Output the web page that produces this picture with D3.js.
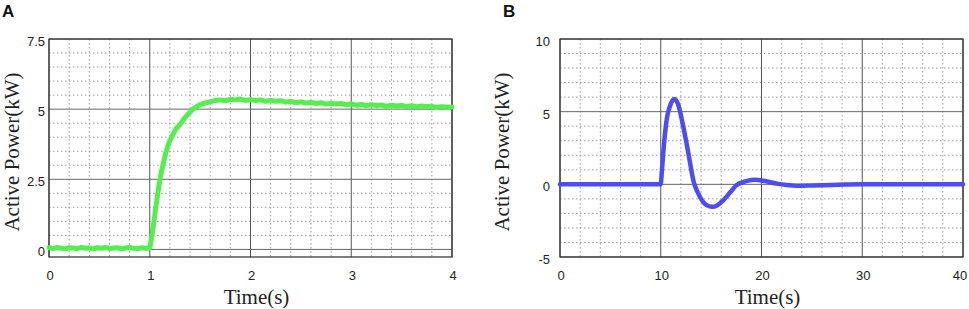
<!DOCTYPE html>
<html>
<head>
<meta charset="utf-8">
<script src="https://cdn.jsdelivr.net/npm/d3@7"></script>
<style>
  body { margin: 0; background: #fff; }
  svg { display: block; }
</style>
</head>
<body>
<div id="d3-container"></div>
<script>
/* CONSTANTS AND GLOBALS */
const width = 969,
  height = 309;

/* DATA */
// panel A: step response, time (s) and active power (kW)
const timeA = [0, 0.04, 0.08, 0.12, 0.16, 0.2, 0.24, 0.28, 0.32, 0.36, 0.4, 0.44, 0.48, 0.52, 0.56, 0.6, 0.64, 0.68, 0.72, 0.76, 0.8, 0.84, 0.88, 0.92, 0.96, 1.0,
  1.02, 1.04, 1.06, 1.08, 1.1, 1.12, 1.14, 1.16, 1.18, 1.2, 1.23, 1.26, 1.3, 1.34, 1.38, 1.42, 1.46, 1.5, 1.55,
  1.6, 1.65, 1.7, 1.75, 1.8, 1.85, 1.9, 1.95, 2.0, 2.05, 2.1, 2.15, 2.2, 2.25, 2.3, 2.35, 2.4, 2.45, 2.5, 2.55, 2.6, 2.65, 2.7, 2.75, 2.8, 2.85, 2.9, 2.95,
  3.0, 3.05, 3.1, 3.15, 3.2, 3.25, 3.3, 3.35, 3.4, 3.45, 3.5, 3.55, 3.6, 3.65, 3.7, 3.75, 3.8, 3.85, 3.9, 3.95, 4.0];
const powerA = [0.06, 0.03, 0.07, 0.04, 0.02, 0.06, 0.05, 0.03, 0.07, 0.04, 0.05, 0.02, 0.06, 0.04, 0.07, 0.03, 0.05, 0.06, 0.02, 0.05, 0.07, 0.04, 0.03, 0.06, 0.04, 0.05,
  0.45, 0.95, 1.5, 2.0, 2.45, 2.85, 3.15, 3.45, 3.68, 3.88, 4.1, 4.3, 4.45, 4.65, 4.82, 4.97, 5.08, 5.16, 5.22,
  5.26, 5.31, 5.33, 5.30, 5.35, 5.33, 5.36, 5.31, 5.34, 5.31, 5.33, 5.28, 5.31, 5.28, 5.30, 5.25, 5.28, 5.23, 5.26, 5.22, 5.24, 5.20, 5.23, 5.18, 5.21, 5.18, 5.20, 5.15,
  5.19, 5.14, 5.17, 5.12, 5.16, 5.13, 5.15, 5.10, 5.14, 5.11, 5.13, 5.09, 5.12, 5.08, 5.11, 5.09, 5.10, 5.06, 5.09, 5.07, 5.08];

// panel B: transient, time (s) and active power (kW)
const timeB = [0, 10, 10.1, 10.3, 10.6, 11.0, 11.35, 11.7, 12.2, 12.7, 13.3, 13.6, 14.2, 14.6, 15.1, 15.6, 16.2, 16.9, 17.5, 18.3, 19.0, 19.4, 20.2, 21.5, 22.5, 23.5, 25.0, 27.0, 30.0, 40.0];
const powerB = [0, 0, 0.8, 2.6, 4.5, 5.55, 5.88, 5.55, 4.1, 2.3, 0.1, -0.45, -1.2, -1.45, -1.55, -1.45, -1.1, -0.55, -0.07, 0.18, 0.3, 0.32, 0.25, 0.05, -0.05, -0.1, -0.08, -0.04, 0.0, 0.0];

// axes ticks
const xTicksA = [0, 1, 2, 3, 4];
const yTicksA = [0, 2.5, 5, 7.5];
const xMinorA = [0.2, 0.4, 0.6, 0.8, 1.2, 1.4, 1.6, 1.8, 2.2, 2.4, 2.6, 2.8, 3.2, 3.4, 3.6, 3.8];
const yMinorA = [0.5, 1, 1.5, 2, 3, 3.5, 4, 4.5, 5.5, 6, 6.5, 7];
const xTicksB = [0, 10, 20, 30, 40];
const yTicksB = [-5, 0, 5, 10];
const xMinorB = [2, 4, 6, 8, 12, 14, 16, 18, 22, 24, 26, 28, 32, 34, 36, 38];
const yMinorB = [-4, -3, -2, -1, 1, 2, 3, 4, 6, 7, 8, 9];

let svg;

/* INIT */
function init() {
  svg = d3
    .select("#d3-container")
    .append("svg")
    .attr("width", width)
    .attr("height", height);

  drawPanel({
    letter: "A", letterX: 2,
    left: 49, right: 452, top: 39, bottom: 257,
    xDomain: [0, 4], yDomain: [-0.27, 7.5],
    xTicks: xTicksA, yTicks: yTicksA, xMinor: xMinorA, yMinor: yMinorA,
    labelRight: 45, yLabelX: 19,
    time: timeA, power: powerA, color: "#55ee4f", lineWidth: 5
  });

  drawPanel({
    letter: "B", letterX: 503,
    left: 560, right: 963, top: 39, bottom: 257,
    xDomain: [0, 40], yDomain: [-5, 10],
    xTicks: xTicksB, yTicks: yTicksB, xMinor: xMinorB, yMinor: yMinorB,
    labelRight: 550, yLabelX: 509,
    time: timeB, power: powerB, color: "#4d4df2", lineWidth: 4.5
  });
}

/* DRAW ONE PANEL */
function drawPanel(p) {
  const xScale = d3.scaleLinear().domain(p.xDomain).range([p.left, p.right]);
  const yScale = d3.scaleLinear().domain(p.yDomain).range([p.bottom, p.top]);

  const g = svg.append("g");

  // minor dotted grid
  g.selectAll("line.minor-x")
    .data(p.xMinor)
    .join("line")
    .attr("class", "minor-x")
    .attr("x1", d => xScale(d)).attr("x2", d => xScale(d))
    .attr("y1", p.top).attr("y2", p.bottom)
    .attr("stroke", "#9a9a9a")
    .attr("stroke-width", 1)
    .attr("stroke-dasharray", "1.5,2.5");

  g.selectAll("line.minor-y")
    .data(p.yMinor)
    .join("line")
    .attr("class", "minor-y")
    .attr("x1", p.left).attr("x2", p.right)
    .attr("y1", d => yScale(d)).attr("y2", d => yScale(d))
    .attr("stroke", "#9a9a9a")
    .attr("stroke-width", 1)
    .attr("stroke-dasharray", "1.5,2.5");

  // major solid grid
  g.selectAll("line.major-x")
    .data(p.xTicks)
    .join("line")
    .attr("class", "major-x")
    .attr("x1", d => xScale(d)).attr("x2", d => xScale(d))
    .attr("y1", p.top).attr("y2", p.bottom)
    .attr("stroke", "#555")
    .attr("stroke-width", 1);

  g.selectAll("line.major-y")
    .data(p.yTicks)
    .join("line")
    .attr("class", "major-y")
    .attr("x1", p.left).attr("x2", p.right)
    .attr("y1", d => yScale(d)).attr("y2", d => yScale(d))
    .attr("stroke", "#666")
    .attr("stroke-width", 1);

  // frame
  g.append("rect")
    .attr("x", p.left).attr("y", p.top)
    .attr("width", p.right - p.left).attr("height", p.bottom - p.top)
    .attr("fill", "none")
    .attr("stroke", "#3a3a3a")
    .attr("stroke-width", 1.3);

  // data line
  const line = d3.line()
    .x(d => xScale(d[0]))
    .y(d => yScale(d[1]))
    .curve(p.letter === "B" ? d3.curveMonotoneX : d3.curveLinear);

  g.append("path")
    .datum(d3.zip(p.time, p.power))
    .attr("fill", "none")
    .attr("stroke", p.color)
    .attr("stroke-width", p.lineWidth)
    .attr("stroke-linejoin", "round")
    .attr("stroke-linecap", "round")
    .attr("d", line);

  // tick labels (last one kept inside the window)
  g.selectAll("text.xtick")
    .data(p.xTicks)
    .join("text")
    .attr("class", "xtick")
    .attr("x", d => Math.min(xScale(d) + 1, width - 9))
    .attr("y", 280)
    .attr("text-anchor", "middle")
    .attr("font-family", "Liberation Sans, Arial, sans-serif")
    .attr("font-size", 13)
    .attr("fill", "#222")
    .text(d => d);

  g.selectAll("text.ytick")
    .data(p.yTicks)
    .join("text")
    .attr("class", "ytick")
    .attr("x", p.labelRight)
    .attr("y", d => yScale(d) + 7)
    .attr("text-anchor", "end")
    .attr("font-family", "Liberation Sans, Arial, sans-serif")
    .attr("font-size", 13)
    .attr("fill", "#222")
    .text(d => d);

  // axis titles
  g.append("text")
    .attr("x", (p.left + p.right) / 2 + 6)
    .attr("y", 304)
    .attr("text-anchor", "middle")
    .attr("font-family", "Liberation Serif, Times New Roman, serif")
    .attr("font-size", 21)
    .attr("fill", "#222")
    .text("Time(s)");

  g.append("text")
    .attr("transform", `translate(${p.yLabelX},152) rotate(-90)`)
    .attr("text-anchor", "middle")
    .attr("font-family", "Liberation Serif, Times New Roman, serif")
    .attr("font-size", 21)
    .attr("fill", "#222")
    .text("Active Power(kW)");

  // panel letter
  svg.append("text")
    .attr("x", p.letterX)
    .attr("y", 17)
    .attr("font-family", "Liberation Sans, Arial, sans-serif")
    .attr("font-weight", "bold")
    .attr("font-size", 17)
    .attr("fill", "#111")
    .text(p.letter);
}

init();
</script>
</body>
</html>
